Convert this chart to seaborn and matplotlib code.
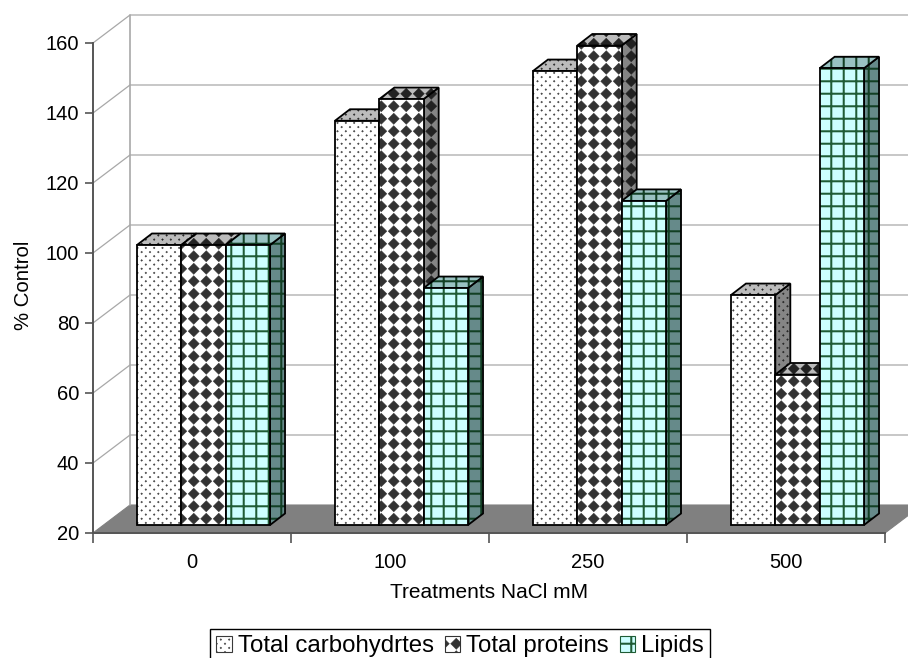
# -*- coding: utf-8 -*-
# Excel style pseudo-3D clustered bars, % control vs NaCl treatment
import numpy as np
import pandas as pd
import matplotlib
matplotlib.use("Agg")
import matplotlib.pyplot as plt
import matplotlib.hatch as mhatch
import seaborn as sns
from matplotlib.patches import Patch, Polygon, Rectangle
from matplotlib.path import Path
from matplotlib.transforms import Affine2D

treatments = ["0", "100", "250", "500"]
series_names = ["Total carbohydrtes", "Total proteins", "Lipids"]
carbohydrates = [100, 135.5, 149.7, 85.7]
proteins = [100, 141.7, 157, 63]
lipids = [100, 87.7, 112.6, 150.5]
y_ticks = [20, 40, 60, 80, 100, 120, 140, 160]

FACE = ["#ffffff", "#ffffff", "#ccffff"]
TOP = ["#bcbcbc", "#bcbcbc", "#99c2c2"]
SIDE = ["#858585", "#858585", "#668a8a"]
HATCH_FACE = ["#3a3a3a", "#333333", "#1f5c35"]
HATCH_SHADE = ["#222222", "#222222", "#123f24"]
HATCH = [".", "O", "+"]
GRID = "#a8a8a8"
FLOOR = "#808080"
AXIS = "#555555"

WALL_DX, WALL_DY = 37, 28    # depth of the chart box, px
BAR_DX, BAR_DY = 15, 11.5    # depth of a bar, px
PLANE_DX, PLANE_DY = 11.5, 8  # shift of the bar front plane, px


class LatticeHatch(mhatch.HatchPatternBase):
    """Excel fill patterns: small dots, diamond lattice, square grid."""

    def __init__(self, hatch, density):
        self.kind = next((c for c in hatch if c in ".O+"), None)
        self.cols = {".": 12, "O": 8, "+": 8}.get(self.kind, 0)
        self.rows = {".": 24, "O": 8, "+": 8}.get(self.kind, 0)
        if self.kind == "+":
            self.num_vertices = 5 * 2 * self.cols
        else:
            self.num_vertices = 5 * self.cols * self.rows

    def set_vertices_and_codes(self, vertices, codes):
        code = [Path.MOVETO, Path.LINETO, Path.LINETO, Path.LINETO, Path.CLOSEPOLY]
        k = 0
        if self.kind == "+":
            w = 0.008
            for p in (np.arange(self.cols) + 0.5) / self.cols:
                vertices[k:k + 5] = [(p - w, 0), (p + w, 0), (p + w, 1), (p - w, 1), (p - w, 0)]
                codes[k:k + 5] = code
                k += 5
                vertices[k:k + 5] = [(0, p - w), (1, p - w), (1, p + w), (0, p + w), (0, p - w)]
                codes[k:k + 5] = code
                k += 5
            return
        half = 0.009 if self.kind == "." else 0.056
        for row in range(self.rows):
            for col in range(self.cols):
                x = (col + 0.5) / self.cols
                if self.kind == "." and row % 2:
                    x = ((col + 1.0) / self.cols) % 1
                y = (row + 0.5) / self.rows
                vertices[k:k + 5] = [(x - half, y), (x, y + half), (x + half, y), (x, y - half), (x - half, y)]
                codes[k:k + 5] = code
                k += 5


mhatch._hatch_types = [LatticeHatch]

sns.set_theme(style="ticks")
plt.rcParams["font.family"] = ["Liberation Sans", "DejaVu Sans"]
plt.rcParams["hatch.linewidth"] = 0.3
plt.rcParams["text.color"] = "black"

df = pd.DataFrame({
    "treatment": treatments * 3,
    "series": np.repeat(series_names, 4),
    "value": carbohydrates + proteins + lipids,
})

fig = plt.figure(figsize=(9.08, 6.58), dpi=100, facecolor="white")

# background axes in image pixels, walls and floor live here
bg = fig.add_axes([0, 0, 1, 1], zorder=0)
bg.set_xlim(0, 908)
bg.set_ylim(658, 0)
bg.axis("off")

ax = fig.add_axes([93 / 908, (658 - 533) / 658, 792 / 908, 490 / 658], zorder=2)
sns.barplot(data=df, x="treatment", y="value", hue="series", hue_order=series_names,
            palette=FACE, saturation=1, width=0.672, gap=0, errorbar=None,
            legend=False, ax=ax)
ax.set_xlim(-0.5, 3.5)
ax.set_ylim(20, 160)
ax.patch.set_visible(False)
sns.despine(ax=ax)


def to_px(x, y):
    return bg.transData.inverted().transform(ax.transData.transform((x, y)))


# back wall, left wall, floor
x0, y_floor = to_px(-0.5, 20)
x1, _ = to_px(3.5, 20)
_, y_top = to_px(-0.5, 160)
bg.add_patch(Polygon([(x0, y_floor), (x0 + WALL_DX, y_floor - WALL_DY),
                      (x1 + WALL_DX, y_floor - WALL_DY), (x1, y_floor)],
                     facecolor=FLOOR, edgecolor=FLOOR, lw=0.8))
for v in y_ticks[1:]:
    _, y = to_px(-0.5, v)
    bg.plot([x0, x0 + WALL_DX, 908], [y, y - WALL_DY, y - WALL_DY], color=GRID, lw=0.9)
bg.plot([x0 + WALL_DX, x0 + WALL_DX], [y_top - WALL_DY, y_floor - WALL_DY], color=GRID, lw=1.2)

# bars: seaborn makes the front faces, top and side faces are added from them
shift = Affine2D().translate(PLANE_DX, PLANE_DY)
z = 3
for g in range(len(treatments)):
    for j, container in enumerate(ax.containers):
        bar = container.patches[g]
        value = bar.get_height()
        bar.set_y(20)
        bar.set_height(value - 20)
        bar.set_transform(ax.transData + shift)
        bar.set_hatch(HATCH[j])
        bar.set_edgecolor(HATCH_FACE[j])
        bar.set_linewidth(0)
        bar.set_clip_on(False)
        bar.set_zorder(z + 0.5)

        xl, yb = to_px(bar.get_x(), 20)
        xr, yt = to_px(bar.get_x() + bar.get_width(), value)
        xl, xr = xl + PLANE_DX, xr + PLANE_DX
        yb, yt = yb - PLANE_DY, yt - PLANE_DY
        top = [(xl, yt), (xl + BAR_DX, yt - BAR_DY), (xr + BAR_DX, yt - BAR_DY), (xr, yt)]
        side = [(xr, yt), (xr + BAR_DX, yt - BAR_DY), (xr + BAR_DX, yb - BAR_DY), (xr, yb)]
        for verts, col, zz in ((side, SIDE[j], z), (top, TOP[j], z + 0.1)):
            ax.add_patch(Polygon(verts, facecolor=col, edgecolor=HATCH_SHADE[j], lw=0,
                                 hatch=HATCH[j], transform=bg.transData,
                                 clip_on=False, zorder=zz))
            ax.add_patch(Polygon(verts, fill=False, edgecolor="black", lw=1.3,
                                 transform=bg.transData, clip_on=False, zorder=zz + 0.05))
        ax.add_patch(Rectangle((xl, yt), xr - xl, yb - yt, fill=False, edgecolor="black",
                               lw=1.3, transform=bg.transData, clip_on=False, zorder=z + 0.6))
        z += 1

# axes, ticks, labels
for name in ("left", "bottom"):
    ax.spines[name].set_color(AXIS)
    ax.spines[name].set_linewidth(1.4)
ax.set_yticks(y_ticks)
ax.set_xticks(np.arange(-0.5, 4, 1))
ax.set_xticklabels([])
ax.set_xticks(range(4), treatments, minor=True)
ax.tick_params(axis="x", which="major", length=7, width=1.2, color=AXIS)
ax.tick_params(axis="x", which="minor", length=0, pad=14.5, labelsize=14.5, labelcolor="black")
ax.tick_params(axis="y", length=6, width=1.2, color=AXIS, pad=4, labelsize=14.5, labelcolor="black")
ax.set_xlabel("Treatments NaCl mM", fontsize=15, labelpad=7.5, color="black")
ax.set_ylabel("% Control", fontsize=14.7, color="black")
ax.yaxis.set_label_coords((33 - 93) / 792, (533 - 285) / 490)

handles = [Patch(facecolor=FACE[j], edgecolor=HATCH_FACE[j], hatch=HATCH[j], lw=0.8)
           for j in range(3)]
fig.legend(handles, series_names, loc="upper center", bbox_to_anchor=(460 / 908, 1 - 629 / 658),
           bbox_transform=fig.transFigure, ncol=3, fontsize=17.3, frameon=True, fancybox=False,
           framealpha=1, edgecolor="black", borderpad=0.25, borderaxespad=0,
           handlelength=0.65, handleheight=0.65, handletextpad=0.25, columnspacing=0.45)

fig.savefig("out.png", dpi=100)
